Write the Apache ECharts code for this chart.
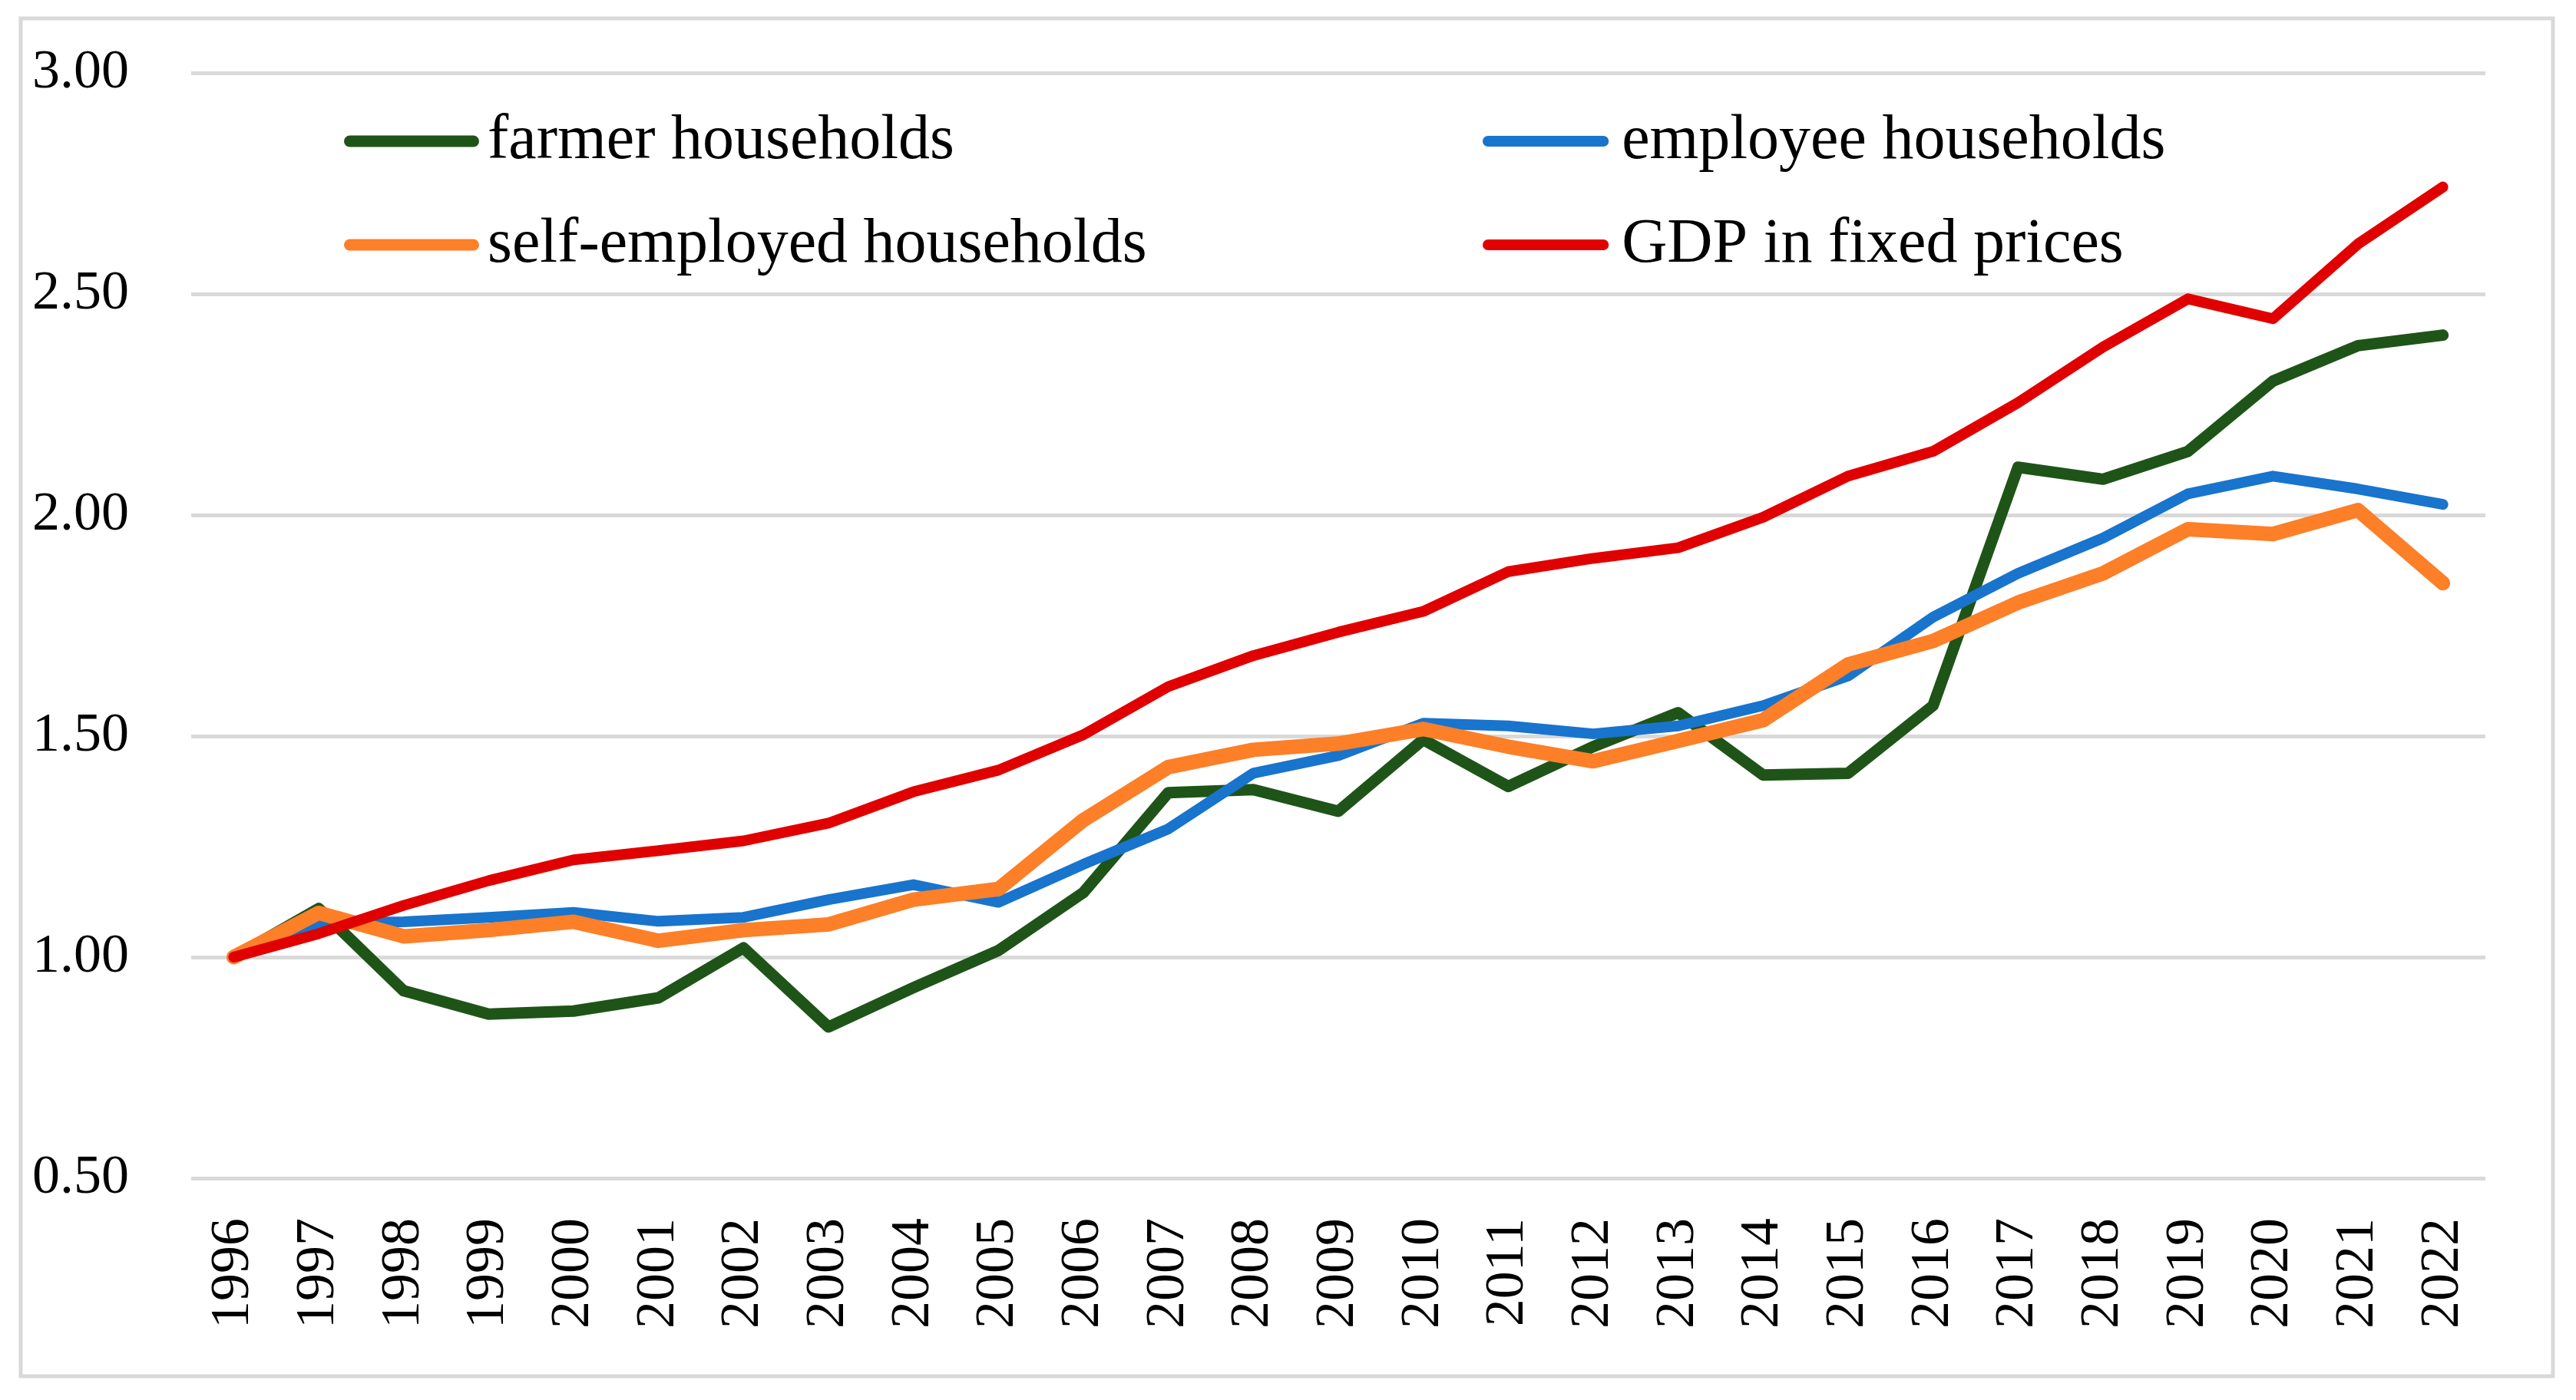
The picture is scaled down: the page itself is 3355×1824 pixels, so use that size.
<!DOCTYPE html>
<html>
<head>
<meta charset="utf-8">
<script src="https://cdn.jsdelivr.net/npm/echarts@6/dist/echarts.min.js"></script>
<style>
html,body{margin:0;padding:0;background:#fff;}
#c{width:3355px;height:1824px;}
</style>
</head>
<body>
<div id="c"></div>
<script>
const years = ['1996','1997','1998','1999','2000','2001','2002','2003','2004','2005','2006','2007','2008','2009','2010','2011','2012','2013','2014','2015','2016','2017','2018','2019','2020','2021','2022'];
const farmer = [1.00,1.11,0.924,0.871,0.878,0.908,1.021,0.842,0.931,1.015,1.146,1.372,1.379,1.33,1.492,1.386,1.476,1.553,1.412,1.416,1.569,2.108,2.081,2.144,2.303,2.383,2.407];
const employee = [1.00,1.077,1.08,1.09,1.101,1.081,1.09,1.13,1.164,1.124,1.21,1.29,1.416,1.456,1.529,1.523,1.505,1.523,1.569,1.636,1.769,1.868,1.948,2.048,2.088,2.059,2.024];
const selfEmployed = [1.00,1.10,1.047,1.061,1.08,1.037,1.061,1.074,1.13,1.154,1.31,1.43,1.469,1.483,1.516,1.476,1.443,1.489,1.536,1.662,1.715,1.802,1.868,1.968,1.957,2.011,1.846];
const gdp = [1.00,1.053,1.117,1.173,1.22,1.241,1.263,1.303,1.374,1.423,1.503,1.612,1.682,1.735,1.782,1.872,1.902,1.926,1.995,2.088,2.144,2.254,2.38,2.489,2.444,2.613,2.742];
const yTicks = [0.5, 3.0, 0.5]; // min, max, interval

const names = ['farmer households','employee households','self-employed households','GDP in fixed prices'];
const colors = ['#1f5419','#1874cd','#fd7f28','#e00000'];
const widths = [15, 14, 19, 14];
const dataSets = [farmer, employee, selfEmployed, gdp];

const FONT = 'Liberation Serif';
const capsule = 'path://M7.5,0 H168.5 A7.5,7.5 0 0 1 168.5,15 H7.5 A7.5,7.5 0 0 1 7.5,0 Z';
const legendPos = [[448,139],[1931,139],[448,274],[1931,274]];

const chart = echarts.init(document.getElementById('c'), null, {renderer:'canvas'});
chart.setOption({
  animation:false,
  backgroundColor:'#ffffff',
  graphic:[{
    type:'rect', shape:{x:27,y:24,width:3298,height:1769},
    style:{fill:'none', stroke:'#d9d9d9', lineWidth:5}, silent:true, z:-1
  }],
  legend: names.map((n,i)=>({
    data:[n], left:legendPos[i][0], top:legendPos[i][1], padding:0,
    icon:capsule, itemWidth:176, itemHeight:widths[i],
    textStyle:{fontFamily:FONT, fontSize:82, color:'#000', lineHeight:90, padding:[0,0,0,6]},
    selectedMode:false
  })),
  grid:{left:249, right:118, top:95, bottom:289, containLabel:false},
  xAxis:{
    type:'category', data:years, boundaryGap:true,
    axisLine:{show:false}, axisTick:{show:false},
    axisLabel:{rotate:90, margin:52, fontFamily:FONT, fontSize:72, color:'#000', interval:0},
    splitLine:{show:false}
  },
  yAxis:{
    type:'value', min:yTicks[0], max:yTicks[1], interval:yTicks[2],
    axisLine:{show:false}, axisTick:{show:false},
    axisLabel:{margin:81, fontFamily:FONT, fontSize:72, color:'#000', formatter:v=>v.toFixed(2)},
    splitLine:{show:true, lineStyle:{color:'#d9d9d9', width:5}}
  },
  series: names.map((n,i)=>({
    name:n, type:'line', data:dataSets[i], symbol:'none', showSymbol:false,
    color:colors[i],
    lineStyle:{color:colors[i], width:widths[i], cap:'round', join:'round'},
    itemStyle:{color:colors[i]},
    z:2+i
  }))
});
</script>
</body>
</html>
